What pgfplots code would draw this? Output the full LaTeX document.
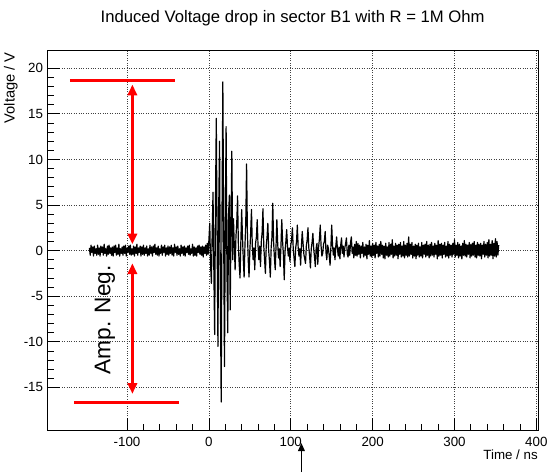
\documentclass[border=0pt]{standalone}
\usepackage{fontspec}
\setmainfont{Liberation Sans}
\usepackage{pgfplots}
\pgfplotsset{compat=1.18}
\usetikzlibrary{arrows.meta}

\begin{document}
\begin{tikzpicture}
\begin{axis}[
    scale only axis,
    width=368pt, height=285.5pt,
    xmin=-197.4, xmax=402,
    ymin=-19.74, ymax=22,
    xtick={-100,0,100,200,300,400},
    ytick={-15,-10,-5,0,5,10,15,20},
    minor tick num=4,
    tick pos=left,
    tick align=inside,
    major tick length=9.5pt,
    minor tick length=4.75pt,
    tick style={black, line width=0.6pt},
    axis line style={black, line width=0.7pt},
    grid=major,
    grid style={black!75, line width=0.6pt, dash pattern=on 0.6pt off 1.2pt},
    /pgf/number format/assume math mode=true,
    ticklabel style={font=\fontsize{10}{12}\selectfont},
    yticklabel style={inner sep=0pt, xshift=-3pt},
    xticklabel style={inner sep=0pt, yshift=-5pt},
    clip=false,
]
% measured waveform, 1 ns steps
\addplot[black, line width=0.9pt, line join=round] coordinates {
(-146,0.3)(-145,-0.5)(-144,0.6)(-143,-0.2)(-142,0.4)(-141,-0.6)(-140,0.5)(-139,-0.3)(-138,0.2)(-137,-0.5)
(-136,0.6)(-135,-0.4)(-134,0.3)(-133,-0.6)(-132,0.5)(-131,-0.2)(-130,0.4)(-129,-0.5)(-128,0.7)(-127,-0.3)
(-126,0.2)(-125,-0.6)(-124,0.5)(-123,-0.4)(-122,0.6)(-121,-0.3)(-120,0.3)(-119,-0.5)(-118,0.4)(-117,-0.6)
(-116,0.5)(-115,-0.2)(-114,0.6)(-113,-0.5)(-112,0.3)(-111,-0.4)(-110,0.7)(-109,-0.6)(-108,0.2)(-107,-0.3)
(-106,0.4)(-105,-0.5)(-104,0.5)(-103,-0.3)(-102,0.6)(-101,-0.6)(-100,0.3)(-99,-0.2)(-98,0.5)(-97,-0.4)
(-96,0.6)(-95,-0.5)(-94,0.2)(-93,-0.4)(-92,0.5)(-91,-0.6)(-90,0.4)(-89,-0.3)(-88,0.7)(-87,-0.5)
(-86,0.3)(-85,-0.2)(-84,0.5)(-83,-0.6)(-82,0.4)(-81,-0.4)(-80,0.6)(-79,-0.5)(-78,0.3)(-77,-0.3)
(-76,0.5)(-75,-0.6)(-74,0.2)(-73,-0.5)(-72,0.6)(-71,-0.3)(-70,0.4)(-69,-0.6)(-68,0.5)(-67,-0.2)
(-66,0.7)(-65,-0.4)(-64,0.3)(-63,-0.5)(-62,0.5)(-61,-0.6)(-60,0.2)(-59,-0.3)(-58,0.6)(-57,-0.5)
(-56,0.4)(-55,-0.2)(-54,0.6)(-53,-0.6)(-52,0.3)(-51,-0.4)(-50,0.5)(-49,-0.5)(-48,0.4)(-47,-0.3)
(-46,0.6)(-45,-0.5)(-44,0.3)(-43,-0.6)(-42,0.7)(-41,-0.2)(-40,0.4)(-39,-0.5)(-38,0.5)(-37,-0.4)
(-36,0.2)(-35,-0.6)(-34,0.6)(-33,-0.3)(-32,0.4)(-31,-0.5)(-30,0.5)(-29,-0.6)(-28,0.3)(-27,-0.2)
(-26,0.5)(-25,-0.4)(-24,0.6)(-23,-0.5)(-22,0.2)(-21,-0.3)(-20,0.7)(-19,-0.6)(-18,0.4)(-17,-0.5)
(-16,0.3)(-15,-0.6)(-14,0.5)(-13,-0.2)(-12,0.6)(-11,-0.4)(-10,0.4)(-9,-0.5)(-8,0.5)(-7,-0.7)
(-6,0.4)(-5,-0.3)(-4,0.6)(-3,-0.5)(-2,0.8)(-1,-0.4)
(0,1.2)(1,3.0)(2,-1.5)(3,-3.6)(4,2.0)(5,6.4)(6,-2.0)(7,-9.2)(8,5.0)(9,14.5)
(10,1.5)(11,-10.5)(12,5.0)(13,12.0)(14,-5.0)(15,-16.6)(16,4.0)(17,18.5)(18,2.0)(19,-12.7)
(20,3.0)(21,13.6)(22,-2.0)(23,-9.0)(24,4.0)(25,6.1)(26,-6.5)(27,3.0)(28,10.9)(29,-1.0)
(30,3.5)(31,0.5)(32,-2.1)(33,1.5)(34,3.0)(35,6.0)(36,0.5)(37,-1.5)(38,-3.0)(39,1.0)
(40,4.5)(41,1.5)(42,-1.0)(43,-2.9)(44,0.5)(45,3.0)(46,9.5)(47,2.0)(48,-1.0)(49,-2.9)
(50,0.0)(51,2.0)(52,4.5)(53,0.5)(54,-1.0)(55,0.3)(56,-2.1)(57,0.8)(58,1.5)(59,3.4)
(60,0.5)(61,-1.0)(62,0.5)(63,-1.75)(64,1.0)(65,2.0)(66,4.6)(67,0.5)(68,-1.0)(69,-2.5)
(70,0.5)(71,1.5)(72,3.0)(73,0.0)(74,-1.2)(75,-2.9)(76,0.3)(77,1.5)(78,5.2)(79,1.0)
(80,-0.8)(81,-2.1)(82,0.5)(83,3.4)(84,0.8)(85,-0.8)(86,0.2)(87,-1.75)(88,0.5)(89,3.4)
(90,1.0)(91,-0.5)(92,-3.2)(93,0.0)(94,1.0)(95,2.3)(96,0.4)(97,-0.6)(98,0.3)(99,-1.2)
(100,0.6)(101,1.2)(102,2.5)(103,0.2)(104,-0.8)(105,-1.75)(106,0.3)(107,1.0)(108,2.8)(109,0.4)
(110,-0.6)(111,0.2)(112,-1.6)(113,0.5)(114,2.1)(115,0.8)(116,-0.4)(117,-0.9)(118,-1.4)(119,0.5)
(120,1.2)(121,2.5)(122,0.3)(123,-0.6)(124,-1.9)(125,0.2)(126,0.9)(127,1.9)(128,0.2)(129,-0.7)
(130,-1.75)(131,0.3)(132,0.8)(133,-1.5)(134,0.4)(135,1.3)(136,2.8)(137,0.5)(138,-0.6)(139,-0.3)
(140,0.7)(141,1.0)(142,2.1)(143,-0.2)(144,-1.0)(145,0.6)(146,0.2)(147,-0.6)(148,-1.6)(149,0.4)
(150,2.8)(151,0.6)(152,-0.5)(153,0.3)(154,-1.0)(155,0.5)(156,1.5)(157,0.2)(158,-0.6)(159,0.4)
(160,-0.9)(161,0.6)(162,1.4)(163,-0.3)(164,0.5)(165,-0.7)(166,0.3)(167,0.8)(168,1.4)(169,-0.4)
(170,-0.7)(171,0.6)(172,-0.5)(173,0.9)(174,1.5)(175,-0.3)(176,0.4)(177,-0.8)(178,0.7)(179,-0.5)
(180,1.0)(181,-0.6)(182,0.8)(183,-0.4)(184,0.6)(185,-0.8)(186,0.5)(187,-0.3)(188,0.9)(189,-0.7)
(190,0.4)(191,-0.5)(192,0.7)(193,-0.9)(194,0.6)(195,-0.4)(196,1.1)(197,-0.6)(198,0.5)(199,-0.7)
(200,0.8)(201,-0.5)(202,0.6)(203,-0.8)(204,0.9)(205,-0.3)(206,0.5)(207,-0.7)(208,0.7)(209,-0.6)
(210,1.0)(211,-0.4)(212,0.6)(213,-0.8)(214,0.5)(215,-0.9)(216,0.8)(217,-0.5)(218,0.4)(219,-0.7)
(220,0.9)(221,-0.6)(222,0.7)(223,-0.4)(224,1.2)(225,-0.8)(226,0.5)(227,-0.6)(228,0.8)(229,-0.5)
(230,0.6)(231,-0.9)(232,0.7)(233,-0.4)(234,0.9)(235,-0.7)(236,0.5)(237,-0.6)(238,1.0)(239,-0.8)
(240,0.6)(241,-0.5)(242,0.8)(243,-0.7)(244,1.5)(245,-0.6)(246,0.7)(247,-0.4)(248,0.9)(249,-0.8)
(250,0.5)(251,-0.6)(252,0.7)(253,-0.9)(254,0.6)(255,-0.5)(256,0.8)(257,-0.7)(258,0.4)(259,-0.6)
(260,0.9)(261,-0.8)(262,0.6)(263,-0.4)(264,0.7)(265,-0.7)(266,1.0)(267,-0.5)(268,0.6)(269,-0.8)
(270,0.7)(271,-0.6)(272,0.9)(273,-0.5)(274,0.5)(275,-0.7)(276,0.8)(277,-0.4)(278,0.6)(279,-0.9)
(280,1.1)(281,-0.6)(282,0.7)(283,-0.5)(284,0.8)(285,-0.8)(286,0.6)(287,-0.4)(288,0.9)(289,-0.7)
(290,0.5)(291,-0.6)(292,1.0)(293,-0.8)(294,0.7)(295,-0.5)(296,0.6)(297,-0.7)(298,0.8)(299,-0.4)
(300,1.2)(301,-0.7)(302,0.6)(303,-0.5)(304,0.9)(305,-0.8)(306,0.7)(307,-0.6)(308,0.5)(309,-0.9)
(310,0.8)(311,-0.5)(312,1.1)(313,-0.6)(314,0.7)(315,-0.7)(316,0.6)(317,-0.4)(318,0.9)(319,-0.8)
(320,0.7)(321,-0.6)(322,0.8)(323,-0.5)(324,1.0)(325,-0.7)(326,0.6)(327,-0.8)(328,0.9)(329,-0.5)
(330,0.7)(331,-0.6)(332,0.8)(333,-0.9)(334,0.6)(335,-0.4)(336,1.0)(337,-0.7)(338,0.7)(339,-0.5)
(340,0.9)(341,-0.8)(342,1.2)(343,-0.6)(344,0.7)(345,-0.5)(346,1.1)(347,-0.9)(348,0.8)(349,-0.6)
(350,1.3)(351,-0.7)(352,1.0)(353,-0.5)(354,0.6)
};
% red amplitude markers
\draw[red, line width=2.2pt] (axis cs:-170,18.7) -- (axis cs:-42,18.7);
\draw[red, line width=2.2pt] (axis cs:-165,-16.7) -- (axis cs:-36,-16.7);
\draw[red, line width=1.9pt, {Triangle[length=8pt,width=7pt]}-{Triangle[length=8pt,width=7pt]}]
    (axis cs:-93.5,18.2) -- (axis cs:-93.5,0.7);
\draw[red, line width=1.9pt, {Triangle[length=8pt,width=7pt]}-{Triangle[length=8pt,width=7pt]}]
    (axis cs:-93.5,-1.4) -- (axis cs:-93.5,-15.7);
\node[rotate=90, font=\fontsize{17}{20}\selectfont, inner sep=0pt] at (axis cs:-127,-7.6) {Amp. Neg.};
% pointer below the axis
\draw[black, line width=1.1pt, -{Triangle[length=6pt,width=5pt]}] (axis cs:113,-24.3) -- (axis cs:113,-21.1);
% labels
\node[font=\fontsize{12.5}{15}\selectfont] at ([yshift=24pt]rel axis cs:0.5,1) {Induced Voltage drop in sector B1 with R = 1M Ohm};
\node[rotate=90, anchor=south east, inner sep=0pt, font=\fontsize{11}{13}\selectfont] at ([xshift=-22pt, yshift=-1.5pt]rel axis cs:0,1) {Voltage / V};
\node[anchor=north east, inner sep=0pt, font=\fontsize{10}{12}\selectfont] at ([yshift=-14pt]rel axis cs:1,0) {Time / ns};
\end{axis}
\path (current axis.south west) ++(-35.5pt,-31.7pt) rectangle ([shift={(7.5pt,37.5pt)}]current axis.north east);
\end{tikzpicture}
\end{document}
